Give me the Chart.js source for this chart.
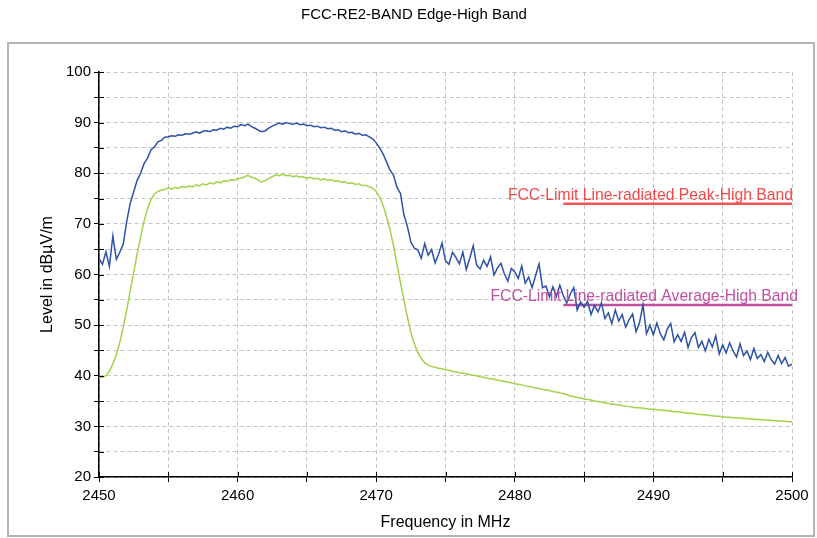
<!DOCTYPE html>
<html><head><meta charset="utf-8">
<script src="https://cdn.jsdelivr.net/npm/chart.js@4/dist/chart.umd.min.js"></script>
<style>html,body{margin:0;padding:0;background:#fff;overflow:hidden}canvas{display:block}</style>
</head><body>
<canvas id="c" width="817" height="538"></canvas>
<script>
const chartTitle = "FCC-RE2-BAND Edge-High Band";
const xTitle = "Frequency in MHz";
const yTitle = "Level in dBµV/m";
const freqStart = 2450, freqStep = 0.25;
const peakLevels = [
63.2,62.0,64.5,61.6,67.6,63.0,64.4,66.0,70.5,74.0,76.3,78.6,80.0,81.9,83.0,84.6,85.2,86.2,86.5,87.1,
87.2,87.4,87.3,87.6,87.5,87.8,87.7,87.9,88.2,87.9,88.3,88.4,88.2,88.6,88.5,88.9,88.7,89.1,88.9,89.3,
89.2,89.6,89.4,89.7,89.2,88.9,88.5,88.2,88.4,88.9,89.3,89.6,89.9,89.7,90.0,89.8,89.7,89.9,89.6,89.7,
89.4,89.5,89.2,89.3,89.0,89.1,88.8,88.9,88.5,88.6,88.2,88.4,88.0,88.1,87.7,87.9,87.5,87.6,87.2,86.8,
86.0,85.0,83.8,82.2,80.6,79.6,77.2,76.0,71.8,69.5,66.4,65.2,
64.9,63.2,66.1,63.8,64.9,62.3,64.0,66.2,62.7,62.0,64.4,63.4,62.1,64.4,61.0,63.2,
65.7,61.8,61.1,62.8,61.6,63.5,59.9,61.3,62.2,60.1,58.7,61.2,60.5,59.2,61.7,58.3,
59.5,57.4,59.8,62.1,57.4,57.7,55.6,57.6,55.7,57.9,55.8,54.4,56.1,57.4,53.0,54.6,
53.5,54.7,52.1,53.9,52.6,54.4,51.3,52.4,50.3,53.0,50.8,52.1,49.6,51.1,52.2,48.7,
50.5,54.0,48.3,50.0,48.1,50.4,48.3,47.1,49.2,50.3,46.7,48.1,46.8,48.6,45.6,47.6,
48.5,45.6,46.8,44.9,47.2,45.7,47.9,44.3,46.1,44.5,46.5,44.9,43.7,46.3,44.0,44.9,
43.2,45.4,43.4,44.2,42.8,44.6,43.2,42.3,44.0,42.4,43.6,41.9,42.3];
const avgLevels = [
39.6,39.7,40.0,40.9,42.3,44.2,46.6,49.6,53.0,56.7,60.4,64.0,67.4,70.5,73.0,74.8,75.9,76.4,76.7,76.8,
77.1,76.9,77.2,77.0,77.4,77.2,77.5,77.3,77.7,77.5,77.9,77.7,78.1,77.9,78.3,78.1,78.5,78.4,78.7,78.6,
78.9,79.0,79.3,79.6,79.2,79.0,78.6,78.3,78.6,79.0,79.3,79.7,79.5,79.8,79.5,79.6,79.3,79.5,79.2,79.3,
79.0,79.2,78.9,79.0,78.7,78.9,78.6,78.7,78.4,78.5,78.2,78.3,78.0,78.1,77.8,77.9,77.6,77.6,77.3,77.0,
76.4,75.3,73.6,71.4,68.8,65.6,62.0,58.4,55.0,51.6,48.6,46.3,44.6,43.4,42.6,42.1,41.8,41.7,41.5,41.4,
41.2,41.1,40.9,40.8,40.6,40.5,40.4,40.2,40.1,40.0,39.8,39.7,39.5,39.4,39.3,39.1,39.0,38.9,38.7,38.6,
38.4,38.3,38.2,38.0,37.9,37.8,37.6,37.5,37.3,37.2,37.1,36.9,36.8,36.6,36.5,36.3,36.0,35.9,35.7,35.6,
35.4,35.3,35.2,35.0,34.9,34.8,34.6,34.5,34.4,34.3,34.2,34.1,34.0,33.9,33.8,33.7,33.7,33.6,33.5,33.4,
33.4,33.3,33.2,33.2,33.1,33.0,32.9,32.9,32.8,32.7,32.6,32.6,32.5,32.4,32.3,32.3,32.2,32.1,32.0,32.0,
31.9,31.8,31.8,31.7,31.7,31.6,31.6,31.5,31.5,31.4,31.4,31.3,31.3,31.2,31.2,31.1,31.1,31.0,31.0,30.9,
30.9];
const peakLimitLabel = "FCC-Limit Line-radiated Peak-High Band";
const avgLimitLabel = "FCC-Limit Line-radiated Average-High Band";
const limitFreqs = [2483.5, 2500];
const peakLimit = [74, 74];
const avgLimit = [54, 54];
const xTickLabels = [2450, 2460, 2470, 2480, 2490, 2500];
const yTickLabels = [20, 30, 40, 50, 60, 70, 80, 90, 100];

const FONT = '"Liberation Sans", Arial, sans-serif';
Chart.defaults.font.family = FONT;
Chart.defaults.color = '#000';

const toXY = (levels) => levels.map((v, i) => ({x: freqStart + i * freqStep, y: v}));
const limXY = (levels) => levels.map((v, i) => ({x: limitFreqs[i], y: v}));

const decor = {
  id: 'decor',
  beforeDraw(chart) {
    const ctx = chart.ctx;
    ctx.save();
    ctx.fillStyle = '#fff';
    ctx.fillRect(0, 0, chart.width, chart.height);
    ctx.strokeStyle = '#b4b4b4';
    ctx.lineWidth = 2;
    ctx.strokeRect(8, 43, 806, 493);
    ctx.fillStyle = '#000';
    ctx.font = '15px ' + FONT;
    ctx.textAlign = 'center';
    ctx.textBaseline = 'middle';
    ctx.fillText(chartTitle, 414, 15);
    ctx.restore();
  },
  afterDraw(chart) {
    const {ctx, chartArea: a, scales: {x, y}} = chart;
    ctx.save();
    ctx.strokeStyle = '#000';
    ctx.lineWidth = 1;
    ctx.beginPath();
    x.ticks.forEach(t => { const p = Math.round(x.getPixelForValue(t.value)) + 0.5; ctx.moveTo(p, a.bottom); ctx.lineTo(p, a.bottom - 5); });
    y.ticks.forEach(t => { const p = Math.round(y.getPixelForValue(t.value)) + 0.5; ctx.moveTo(a.left, p); ctx.lineTo(a.left + 5, p); });
    ctx.stroke();
    ctx.font = '15.7px ' + FONT;
    ctx.textAlign = 'right';
    ctx.textBaseline = 'alphabetic';
    const pk = chart.getDatasetMeta(2).data[1];
    ctx.fillStyle = '#f04a4a';
    ctx.fillText(peakLimitLabel, pk.x + 1, pk.y - 4);
    const av = chart.getDatasetMeta(3).data[1];
    ctx.fillStyle = '#c24fa2';
    ctx.fillText(avgLimitLabel, av.x + 6, av.y - 4);
    ctx.restore();
  }
};

new Chart(document.getElementById('c'), {
  type: 'line',
  data: {
    datasets: [
      {label: 'Peak', data: toXY(peakLevels), borderColor: '#2d52a6', borderWidth: 1.5, pointRadius: 0, tension: 0},
      {label: 'Average', data: toXY(avgLevels), borderColor: '#a3d24a', borderWidth: 1.5, pointRadius: 0, tension: 0},
      {label: peakLimitLabel, data: limXY(peakLimit), borderColor: '#f05555', borderWidth: 2.5, pointRadius: 0},
      {label: avgLimitLabel, data: limXY(avgLimit), borderColor: '#c0509e', borderWidth: 2.5, pointRadius: 0}
    ]
  },
  options: {
    responsive: false,
    animation: false,
    devicePixelRatio: 1,
    layout: {padding: {top: 72, right: 25, bottom: 0, left: 0}},
    plugins: {legend: {display: false}, title: {display: false}, tooltip: {enabled: false}},
    scales: {
      x: {
        type: 'linear', min: 2450, max: 2500,
        ticks: {stepSize: 5, autoSkip: false, maxRotation: 0, padding: 5, font: {size: 15}, color: '#000',
          callback: v => xTickLabels.includes(v) ? String(v) : ''},
        grid: {color: '#c4c4c4', tickColor: '#000', tickLength: 5, tickBorderDash: [], lineWidth: 1},
        border: {display: true, color: '#000', width: 1.5, dash: [4, 3]},
        title: {display: true, text: xTitle, font: {size: 16}, color: '#000', padding: {top: 0, bottom: 6}},
        afterFit: s => { s.height = 61; }
      },
      y: {
        type: 'linear', min: 20, max: 100,
        ticks: {stepSize: 5, autoSkip: false, padding: 3, font: {size: 15}, color: '#000',
          callback: v => yTickLabels.includes(v) ? String(v) : ''},
        grid: {color: '#c4c4c4', tickColor: '#000', tickLength: 5, tickBorderDash: [], lineWidth: 1},
        border: {display: true, color: '#000', width: 1.5, dash: [4, 3]},
        title: {display: true, text: yTitle, font: {size: 16}, color: '#000', padding: {top: 38, bottom: 0}},
        afterFit: s => { s.width = 99; }
      }
    }
  },
  plugins: [decor]
});
</script>
</body></html>
